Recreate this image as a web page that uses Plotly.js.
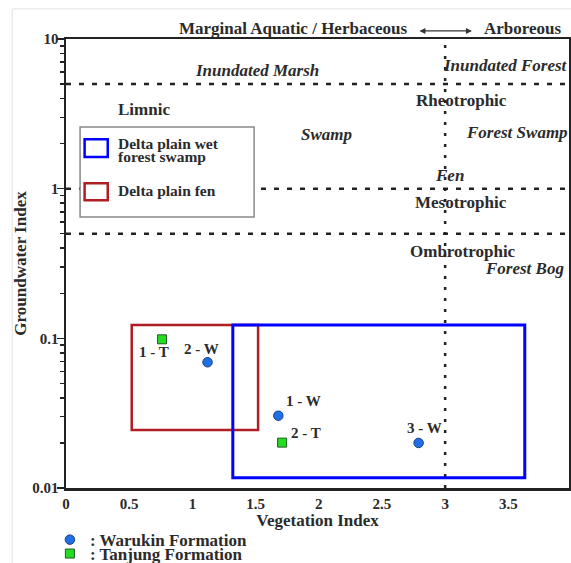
<!DOCTYPE html>
<html><head><meta charset="utf-8">
<script src="https://cdn.plot.ly/plotly-3.0.1.min.js"></script>
<style>html,body{margin:0;padding:0;background:#fff;}#chart{width:571px;height:563px;}</style>
</head><body><div id="chart"></div>
<script>
// ---- data ----
const warukinX = [1.12, 1.68, 2.79];
const warukinY = [0.0692, 0.0304, 0.0200];
const warukinLabels = ['2 - W', '1 - W', '3 - W'];
const tanjungX = [0.76, 1.71];
const tanjungY = [0.0985, 0.0201];
const tanjungLabels = ['1 - T', '2 - T'];
const fenBoxX = [0.52, 1.52];
const fenBoxY = [0.0244, 0.123];
const swampBoxX = [1.32, 3.63];
const swampBoxY = [0.0117, 0.123];
const groundwaterThresholds = [5, 1, 0.5];
const vegetationThreshold = 3;
const xTickVals = [0, 0.5, 1, 1.5, 2, 2.5, 3, 3.5];
const xTickText = ['0', '0.5', '1', '1.5', '2', '2.5', '3', '3.5'];
const yTickVals = [0.01, 0.1, 1, 10];
const yTickText = ['0.01', '0.1', '1', '10'];
const seriesNames = [': Warukin Formation', ': Tanjung Formation'];
const boxNames = ['Delta plain wet', 'forest swamp', 'Delta plain fen'];
const zoneLabels = ['Inundated Marsh', 'Inundated Forest', 'Limnic', 'Rheotrophic', 'Swamp',
  'Forest Swamp', 'Fen', 'Mesotrophic', 'Ombrotrophic', 'Forest Bog'];
const headerLabels = ['Marginal Aquatic / Herbaceous', 'Arboreous'];

// ---- style ----
const F = '"Liberation Serif", "Times New Roman", serif';
const TXT = '#2b2b2b';
const BLUE = '#0000ff', RED = '#b01e23';
const zonePos = [
  [0.379, 0.929, true], [0.874, 0.942, true], [0.155, 0.842, false], [0.787, 0.864, false],
  [0.517, 0.788, true], [0.897, 0.791, true], [0.763, 0.695, true], [0.785, 0.635, false],
  [0.789, 0.526, false], [0.912, 0.488, true]
];
const wShift = [[-6, 13], [25, 15], [6, 15]];
const tShift = [[-8, -13], [24, 10]];
// log-axis minor tick positions (2..9 within each decade)
const minorVals = [];
[0.01, 0.1, 1].forEach(d => { for (let k = 2; k <= 9; k++) minorVals.push(d * k); });

const traces = [
  {type: 'scatter', mode: 'markers', x: warukinX, y: warukinY, name: seriesNames[0], legend: 'legend',
   marker: {symbol: 'circle', size: 9.5, color: '#1f6fe5', line: {color: '#1b3f8a', width: 1}}, cliponaxis: false},
  {type: 'scatter', mode: 'markers', x: tanjungX, y: tanjungY, name: seriesNames[1], legend: 'legend2',
   marker: {symbol: 'square', size: 9, color: '#22dd22', line: {color: '#245a24', width: 1}}, cliponaxis: false}
];

const shapes = [];
groundwaterThresholds.forEach(v => shapes.push({type: 'line', xref: 'paper', x0: 0, x1: 1, yref: 'y', y0: v, y1: v,
  line: {color: '#222', width: 2.5, dash: '5px,8px'}}));
shapes.push({type: 'line', xref: 'x', x0: vegetationThreshold, x1: vegetationThreshold, yref: 'paper', y0: 0, y1: 1,
  line: {color: '#222', width: 2.5, dash: '3px,8px'}});
shapes.push({type: 'rect', xref: 'x', yref: 'y', x0: fenBoxX[0], x1: fenBoxX[1], y0: fenBoxY[0], y1: fenBoxY[1],
  line: {color: RED, width: 2.5}});
shapes.push({type: 'rect', xref: 'x', yref: 'y', x0: swampBoxX[0], x1: swampBoxX[1], y0: swampBoxY[0], y1: swampBoxY[1],
  line: {color: BLUE, width: 3}});
// inner key box
shapes.push({type: 'rect', xref: 'paper', yref: 'paper', x0: 0.028, x1: 0.374, y0: 0.6036, y1: 0.804,
  line: {color: '#888', width: 1.5}, fillcolor: '#fff'});
shapes.push({type: 'rect', xref: 'paper', yref: 'paper', x0: 0.037, x1: 0.083, y0: 0.737, y1: 0.777,
  line: {color: BLUE, width: 2.5}});
shapes.push({type: 'rect', xref: 'paper', yref: 'paper', x0: 0.037, x1: 0.083, y0: 0.641, y1: 0.679,
  line: {color: RED, width: 2.5}});
// faint page frame
shapes.push({type: 'line', xref: 'paper', yref: 'paper', x0: -0.107, x1: -0.107, y0: 1.067, y1: -0.2,
  line: {color: '#e2e2e2', width: 1}});
shapes.push({type: 'line', xref: 'paper', yref: 'paper', x0: -0.107, x1: 1.02, y0: 1.067, y1: 1.067,
  line: {color: '#e2e2e2', width: 1}});

const ann = [];
zoneLabels.forEach((t, i) => ann.push({xref: 'paper', yref: 'paper', x: zonePos[i][0], y: zonePos[i][1],
  text: t, showarrow: false, xanchor: 'center', yanchor: 'middle',
  font: {family: F, size: 17, color: TXT, weight: 700, style: zonePos[i][2] ? 'italic' : 'normal'}}));
ann.push({xref: 'paper', yref: 'paper', x: 0.451, y: 1.0223, text: headerLabels[0], showarrow: false,
  xanchor: 'center', yanchor: 'middle', font: {family: F, size: 17, color: TXT, weight: 700}});
ann.push({xref: 'paper', yref: 'paper', x: 0.908, y: 1.0223, text: headerLabels[1], showarrow: false,
  xanchor: 'center', yanchor: 'middle', font: {family: F, size: 17, color: TXT, weight: 700}});
ann.push({xref: 'paper', yref: 'paper', x: 0.807, y: 1.018, ax: -54, ay: 0, text: '', showarrow: true,
  arrowside: 'end+start', arrowhead: 2, arrowsize: 1, arrowwidth: 1.2, arrowcolor: '#333', standoff: 0, startstandoff: 0});
// key texts
ann.push({xref: 'paper', yref: 'paper', x: 0.0994, y: 0.768, text: boxNames[0], showarrow: false,
  xanchor: 'left', yanchor: 'middle', font: {family: F, size: 15.5, color: TXT, weight: 700}});
ann.push({xref: 'paper', yref: 'paper', x: 0.0994, y: 0.738, text: boxNames[1], showarrow: false,
  xanchor: 'left', yanchor: 'middle', font: {family: F, size: 15.5, color: TXT, weight: 700}});
ann.push({xref: 'paper', yref: 'paper', x: 0.0994, y: 0.6615, text: boxNames[2], showarrow: false,
  xanchor: 'left', yanchor: 'middle', font: {family: F, size: 15.5, color: TXT, weight: 700}});
// point labels
warukinLabels.forEach((t, i) => ann.push({xref: 'x', yref: 'y', x: warukinX[i], y: Math.log10(warukinY[i]),
  text: t, showarrow: false, xanchor: 'center', yanchor: 'middle', xshift: wShift[i][0], yshift: wShift[i][1],
  font: {family: F, size: 15, color: TXT, weight: 700}}));
tanjungLabels.forEach((t, i) => ann.push({xref: 'x', yref: 'y', x: tanjungX[i], y: Math.log10(tanjungY[i]),
  text: t, showarrow: false, xanchor: 'center', yanchor: 'middle', xshift: tShift[i][0], yshift: tShift[i][1],
  font: {family: F, size: 15, color: TXT, weight: 700}}));

const legendStyle = (y) => ({x: -0.032, xanchor: 'left', y: y, yanchor: 'middle', bgcolor: 'rgba(0,0,0,0)',
  borderwidth: 0, font: {family: F, size: 17, color: TXT, weight: 700}, itemwidth: 30});

const layout = {
  width: 571, height: 563,
  margin: {l: 66, r: 2, t: 39, b: 75, autoexpand: false},
  paper_bgcolor: '#fff', plot_bgcolor: '#fff',
  font: {family: F, size: 15, color: TXT, weight: 700},
  showlegend: true,
  legend: legendStyle(-0.116),
  legend2: legendStyle(-0.147),
  xaxis: {range: [0, 3.98], tickmode: 'array', tickvals: xTickVals, ticktext: xTickText,
    showgrid: false, zeroline: false, showline: true, linewidth: 2.5, linecolor: '#222', mirror: true,
    ticks: '', tickfont: {family: F, size: 15, color: TXT, weight: 700},
    title: {text: 'Vegetation Index', font: {family: F, size: 17, color: TXT, weight: 700}, standoff: 1}},
  yaxis: {type: 'log', range: [-2, 1], tickmode: 'array', tickvals: yTickVals, ticktext: yTickText,
    showgrid: false, zeroline: false, showline: true, linewidth: 2.5, linecolor: '#222', mirror: true,
    ticks: 'outside', ticklen: 7, tickwidth: 1.5, tickcolor: '#222', ticklabelstandoff: -5,
    minor: {tickmode: 'array', tickvals: minorVals, ticks: 'outside', ticklen: 4, tickwidth: 1.5, tickcolor: '#222', showgrid: false},
    tickfont: {family: F, size: 15, color: TXT, weight: 700},
    title: {text: 'Groundwater Index', font: {family: F, size: 17, color: TXT, weight: 700}, standoff: 2}},
  shapes: shapes,
  annotations: ann
};

Plotly.newPlot('chart', traces, layout, {displayModeBar: false, staticPlot: true});
</script>
</body></html>
